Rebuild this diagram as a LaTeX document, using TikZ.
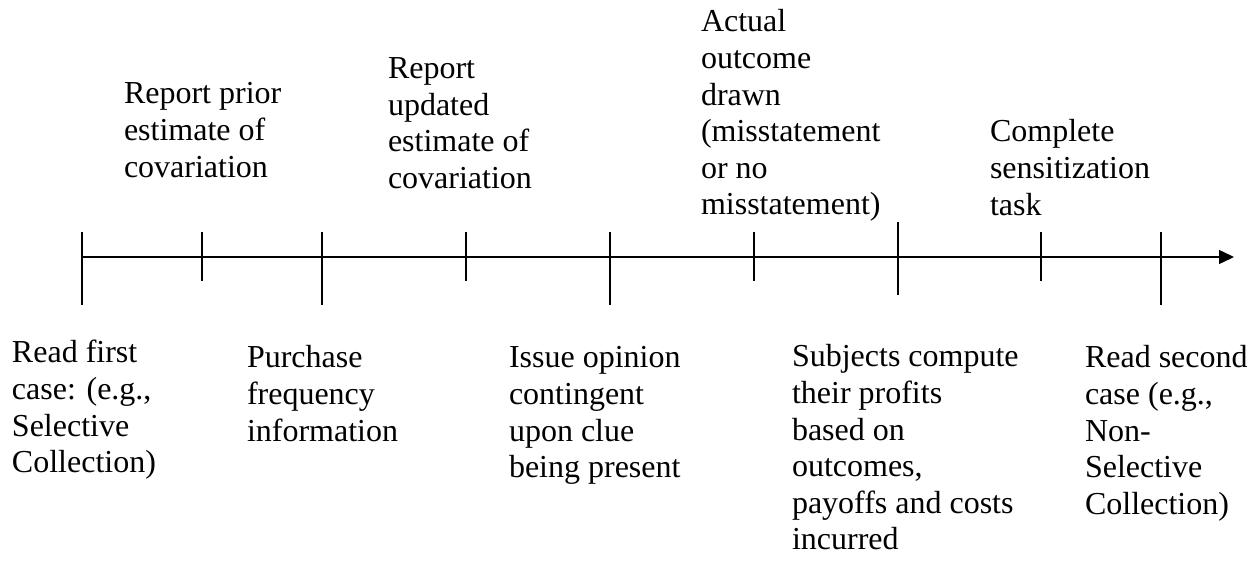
\documentclass[tikz,border=0pt]{standalone}
\usepackage{fontspec}
\setmainfont{Liberation Serif}
\usetikzlibrary{arrows.meta}
\begin{document}
\begin{tikzpicture}[x=0.375pt,y=-0.375pt,
  lbl/.style={anchor=north west,inner sep=0pt,outer sep=0pt,align=left,
    font=\fontsize{12}{13.7}\selectfont},
  axisline/.style={line width=0.5pt,-{Triangle[length=15*0.375pt,width=14*0.375pt]}},
  tick/.style={line width=0.75pt}]
\useasboundingbox (0,0) rectangle (1257,561);
% timeline
\coordinate (start) at (82,257);
\coordinate (end) at (1234,257);
\draw[axisline] (start) -- (end);
% ticks
\foreach \x/\a/\b in {82/232/305, 202/232/281, 322/232/305, 466/232/281,
  610/232/305, 754/232/281, 898/222/295, 1041/232/281, 1161/232/305}
  \draw[tick] (\x,\a) -- (\x,\b);
% labels above (y = first baseline - 26.67)
\newcommand{\st}{\rule{0pt}{10pt}}
\node[lbl] (prior) at (124,77.3) {\st Report prior\\estimate of\\covariation};
\node[lbl] (updated) at (388,51.8) {\st Report\\updated\\estimate of\\covariation};
\node[lbl] (actual) at (701,5.3) {\st Actual\\outcome\\drawn\\(misstatement\\or no\\misstatement)};
\node[lbl] (complete) at (990,115.3) {\st Complete\\sensitization\\task};
% labels below
\node[lbl] (readfirst) at (12,336.3) {\st Read first\\case: (e.g.,\\Selective\\Collection)};
\node[lbl] (purchase) at (247,341.3) {\st Purchase\\frequency\\information};
\node[lbl] (issue) at (509,341.3) {\st Issue opinion\\contingent\\upon clue\\being present};
\node[lbl] (subjects) at (792,340.3) {\st Subjects compute\\their profits\\based on\\outcomes,\\payoffs and costs\\incurred};
\node[lbl] (readsecond) at (1085,341.3) {\st Read second\\case (e.g.,\\Non-\\Selective\\Collection)};
\end{tikzpicture}
\end{document}
